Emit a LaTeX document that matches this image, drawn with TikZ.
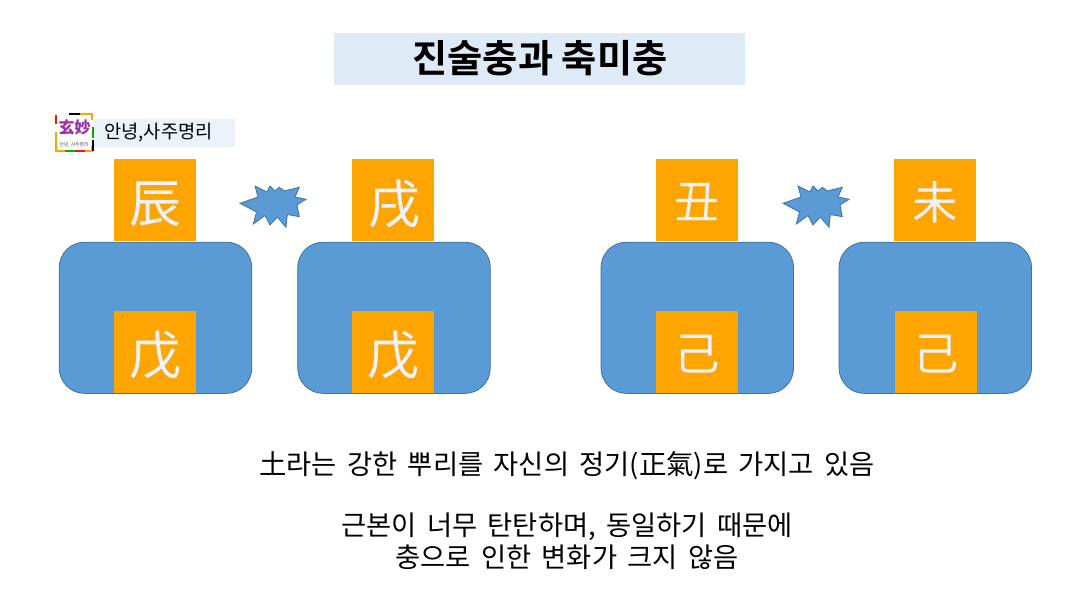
\documentclass[tikz,border=0pt]{standalone}
\usepackage{fontspec}
\setmainfont{Noto Sans CJK KR}
\newfontfamily\krbold[BoldFont={Noto Sans CJK KR Bold}]{Noto Sans CJK KR}
\newfontfamily\krwide[WordSpace=1.7]{Noto Sans CJK KR}
\definecolor{boxblue}{HTML}{5B9BD5}
\definecolor{edgeblue}{HTML}{41719C}
\definecolor{hanjaorange}{HTML}{FFA500}
\definecolor{titlebg}{HTML}{DEEAF6}
\definecolor{bannerbg}{HTML}{EBF2FA}
\definecolor{logopurple}{HTML}{A030A8}
\tikzset{
  body/.style={draw=edgeblue,line width=.6pt,fill=boxblue,rounded corners=19pt,minimum width=144.4pt,minimum height=113.4pt,inner sep=0pt},
  hanjabox/.style={fill=hanjaorange,minimum size=61.5pt,inner sep=0pt},
  hanjaglyph/.style={text=white!95!blue,inner sep=0pt},
  para/.style={align=center,inner sep=0pt,font=\krwide\fontsize{20.5}{24}\selectfont},
  burst/.style={draw=edgeblue,line width=.6pt,fill=boxblue,line join=miter}
}
\newcommand{\burstpath}{(240,203.3)--(258,197)--(255,186)--(267,192)--(270,186)--(275,191)--(279.3,187.3)--(284.3,191)--(299.3,187.3)--(295,197)--(306,199.3)--(297,205)--(299.3,216.7)--(287.3,214.5)--(286,227.3)--(277.3,217)--(270,225)--(265,215.5)--(253.3,224)--(256.5,212)--cycle}
\begin{document}
\begin{tikzpicture}[x=.75pt,y=-.75pt]
\useasboundingbox (0,0) rectangle (1088,613);
\fill[white] (0,0) rectangle (1088,613);
% title
\node[fill=titlebg,minimum width=308.25pt,minimum height=39pt,inner sep=0pt] (title) at (539.5,59) {};
\node[inner sep=0pt,font=\krbold\bfseries\fontsize{28.7}{28.7}\selectfont] (titletext) at (540,58.5) {진술충과 축미충};
% logo
\node[fill=white,minimum width=28.5pt,minimum height=29pt,inner sep=0pt] (logo) at (74,132.5) {};
\node[inner sep=0pt,text=logopurple,font=\bfseries\fontsize{12}{12}\selectfont] (logotext) at (74.5,127.5) {玄妙};
\node[inner sep=0pt,text=black!70,font=\fontsize{3.6}{3.6}\selectfont] (logosub) at (74,145) {안녕, 사주명리};
\draw[line width=1.4pt,hanjaorange] (75,114)--(92,114)--(92,120);
\draw[line width=1.4pt,black] (69,114)--(80,114);
\draw[line width=1.4pt,red!85!orange] (56,115)--(56,124);
\draw[line width=1.4pt,hanjaorange] (56,132)--(56,151)--(65,151);
\draw[line width=1.4pt,green!70!black] (65,151)--(75,151);
\draw[line width=1.4pt,red!85!orange] (75,151)--(85,151);
\draw[line width=1.4pt,hanjaorange] (85,151)--(92,151)--(92,146);
\draw[line width=1.4pt,green!70!black] (93,127)--(93,138);
\draw[line width=1.4pt,black] (93,140)--(93,151);
\node[fill=bannerbg,minimum width=105.75pt,minimum height=21pt,inner sep=0pt] (banner) at (164,133) {};
\node[inner sep=0pt,font=\fontsize{14}{14}\selectfont] (bannertext) at (158.5,133) {안녕,사주명리};
% bodies
\node[body] (b1) at (155.5,317.8) {};
\node[body] (b2) at (394,317.8) {};
\node[body] (b3) at (697.3,317.8) {};
\node[body] (b4) at (935.3,317.8) {};
% hanja boxes
\node[hanjabox] (t1) at (155,200) {};
\node[hanjabox] (t2) at (393,200) {};
\node[hanjabox] (t3) at (697,200) {};
\node[hanjabox] (t4) at (935,200) {};
\node[hanjabox] (l1) at (155,352) {};
\node[hanjabox] (l2) at (393,352) {};
\node[hanjabox] (l3) at (697,352) {};
\node[hanjabox] (l4) at (936,352) {};
% hanja glyphs
\node[hanjaglyph,font=\fontsize{39}{39}\selectfont] (g1) at (155,204) {辰};
\node[hanjaglyph,font=\fontsize{39}{39}\selectfont] (g2) at (394,204) {戌};
\node[hanjaglyph,font=\fontsize{34}{34}\selectfont] (g3) at (697,202) {丑};
\node[hanjaglyph,font=\fontsize{34}{34}\selectfont] (g4) at (935,202) {未};
\node[hanjaglyph,font=\fontsize{39}{39}\selectfont] (g5) at (155,355) {戊};
\node[hanjaglyph,font=\fontsize{39}{39}\selectfont] (g6) at (393,355) {戊};
\node[hanjaglyph,font=\fontsize{34}{34}\selectfont] (g7) at (697,354.5) {己};
\node[hanjaglyph,font=\fontsize{34}{34}\selectfont] (g8) at (936,354.5) {己};
% bursts
\draw[burst] \burstpath;
\begin{scope}[xshift=407.25pt]
\draw[burst] \burstpath;
\end{scope}
% texts
\node[para] (p1) at (567,465.5) {土라는 강한 뿌리를 자신의 정기(正氣)로 가지고 있음};
\node[para] (p2) at (567,541) {근본이 너무 탄탄하며, 동일하기 때문에\\충으로 인한 변화가 크지 않음};
\end{tikzpicture}
\end{document}
